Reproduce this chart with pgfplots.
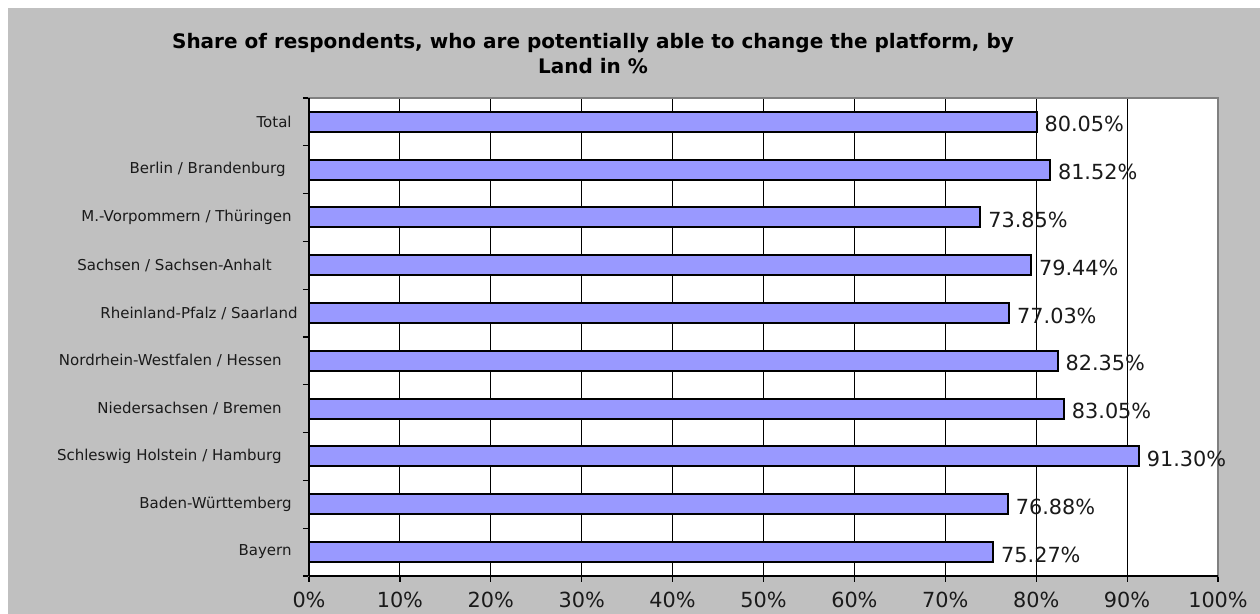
\documentclass[border=0pt]{standalone}
\usepackage{pgfplots}
\pgfplotsset{compat=1.18}
\usepackage{fontspec}
\setmainfont{DejaVu Sans}
\definecolor{bg}{HTML}{C0C0C0}
\definecolor{barc}{HTML}{9999FF}
\definecolor{txt}{HTML}{1A1A1A}
\begin{document}
\begin{tikzpicture}[x=1pt,y=1pt]
\fill[white] (0,0) rectangle (630,307);
\fill[bg] (4,0) rectangle (630,303);
\node[font=\bfseries\fontsize{10}{12}\selectfont, anchor=base, inner sep=0pt] at (296.5,282.5) {Share of respondents, who are potentially able to change the platform, by};
\node[font=\bfseries\fontsize{10}{12}\selectfont, anchor=base, inner sep=0pt] at (296.5,270) {Land in \%};
\begin{axis}[
  at={(154.5pt,19pt)}, anchor=south west,
  scale only axis, width=454.5pt, height=239pt,
  xbar, bar width=10pt,
  xmin=0, xmax=100, ymin=-0.5, ymax=9.5,
  /pgf/number format/assume math mode=true,
  ytick={0,...,9},
  yticklabels={Bayern,Baden-Württemberg,Schleswig Holstein / Hamburg\hspace*{5pt},Niedersachsen / Bremen\hspace*{5pt},Nordrhein-Westfalen / Hessen\hspace*{5pt},Rheinland-Pfalz / Saarland\hspace*{-3pt},Sachsen / Sachsen-Anhalt\hspace*{10pt},M.-Vorpommern / Thüringen,Berlin / Brandenburg\hspace*{3pt},Total},
  xtick={0,10,...,100},
  xticklabel={\pgfmathprintnumber{\tick}\%},
  minor ytick={-0.5,0.5,...,9.5},
  minor xtick={0,10,...,100},
  major tick length=0pt, minor tick length=3pt,
  tick align=outside, xtick pos=left, ytick pos=left,
  tick style={black, line width=0.6pt},
  xmajorgrids, major grid style={black, line width=0.5pt},
  axis line style={draw=gray, line width=1pt},
  axis background/.style={fill=white},
  yticklabel style={anchor=east, inner sep=0pt, xshift=-8.5pt, font=\fontsize{7.5}{9}\selectfont, text=txt},
  xticklabel style={anchor=north, inner sep=0pt, yshift=-8pt, font=\fontsize{10.4}{12}\selectfont, text=txt},
  point meta=x,
  nodes near coords={\pgfmathprintnumber[fixed,fixed zerofill,precision=2]{\pgfplotspointmeta}\%},
  nodes near coords style={anchor=west, inner sep=0pt, xshift=3.5pt, yshift=-1.2pt, font=\fontsize{10.4}{12}\selectfont, text=txt},
  after end axis/.code={\draw[black, line width=0.8pt] (axis description cs:0,0)--(axis description cs:1,0);
     \draw[black, line width=0.6pt] (axis description cs:0,0)--(axis description cs:0,1);},
]
\addplot[fill=barc, draw=black, line width=1pt] coordinates {
(75.27,0) (76.88,1) (91.30,2) (83.05,3) (82.35,4) (77.03,5) (79.44,6) (73.85,7) (81.52,8) (80.05,9)
};
\end{axis}
\end{tikzpicture}
\end{document}
